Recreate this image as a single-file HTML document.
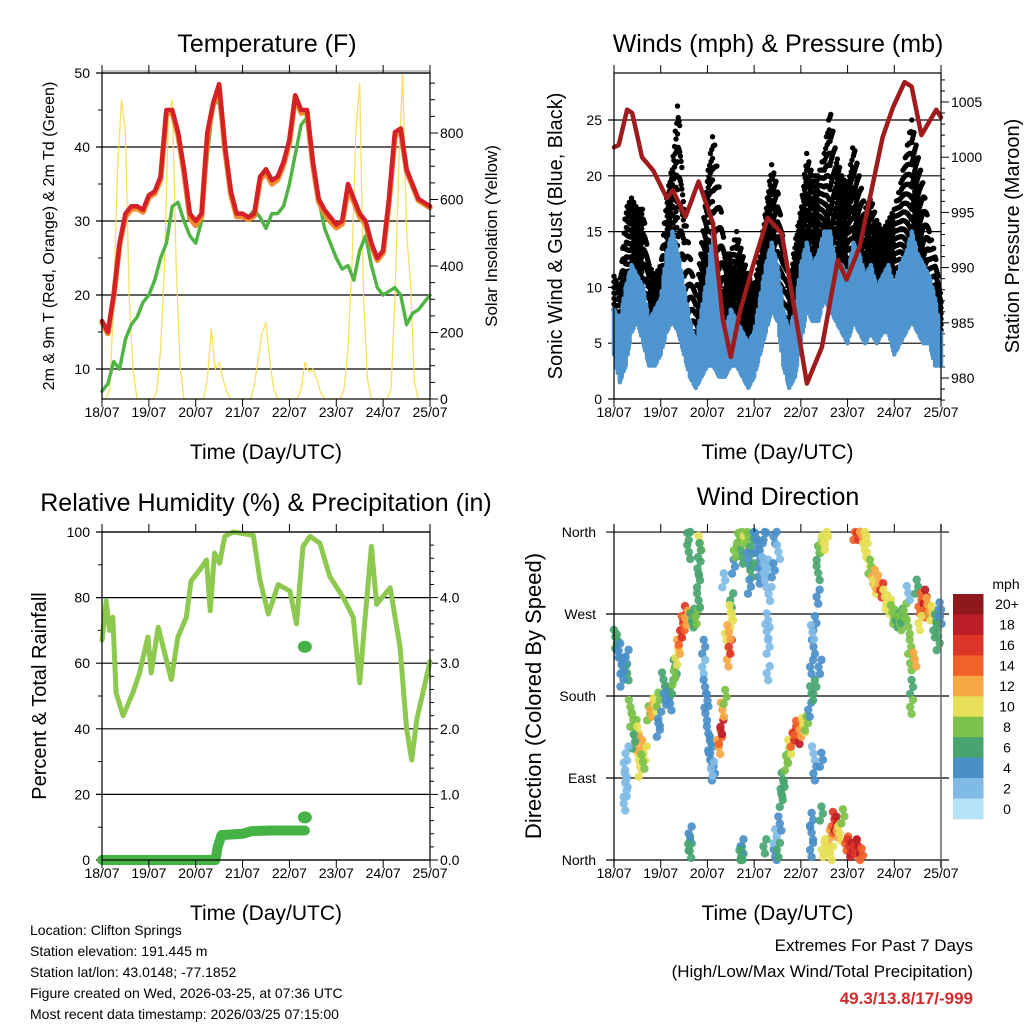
<!DOCTYPE html>
<html><head><meta charset="utf-8"><style>
html,body{margin:0;padding:0;background:#fff;}
svg{display:block;font-family:"Liberation Sans",Arial,sans-serif;}
</style></head><body>
<svg id="fig" width="1024" height="1024" viewBox="0 0 1024 1024">
<rect x="0" y="0" width="1024" height="1024" fill="#fff"/>
<g id="gTemp"></g>
<g id="gWind"></g>
<g id="gRH"></g>
<g id="gDir"></g>
<g id="gText">
<text x="30" y="935" font-size="14">Location: Clifton Springs</text>
<text x="30" y="956" font-size="14">Station elevation: 191.445 m</text>
<text x="30" y="977" font-size="14">Station lat/lon: 43.0148; -77.1852</text>
<text x="30" y="998" font-size="14">Figure created on Wed, 2026-03-25, at 07:36 UTC</text>
<text x="30" y="1019" font-size="14">Most recent data timestamp: 2026/03/25 07:15:00</text>
<text x="973" y="951" font-size="17" text-anchor="end">Extremes For Past 7 Days</text>
<text x="973" y="977" font-size="17" text-anchor="end">(High/Low/Max Wind/Total Precipitation)</text>
<text x="973" y="1004" font-size="17" font-weight="bold" fill="#d02a2a" text-anchor="end">49.3/13.8/17/-999</text>
</g>
</svg>
<script>
// ---------- DATA ----------
const dayLabels = ["18/07","19/07","20/07","21/07","22/07","23/07","24/07","25/07"];
// temperature, 3-hourly from 18/07 00Z
const temp2m = [16.5,15,20,27,31,32,32,31.5, 33.5,34,36,45,45,42,37,31, 30,31,42,46,48.5,40,34,31, 31,30.5,31,36,37,35.5,36,38, 41,47,45,45,38,33,31.5,30.5, 29.5,30,35,33,31,30,27,25, 26,33,42,42.5,37,35,33,32.5, 32];
const temp9m = [16.3,14.8,19.8,26.8,30.6,31.6,31.7,31.2, 33.2,33.7,35.6,44.6,44.6,41.6,36.6,30.4, 29.4,30.6,41.6,45.8,48.2,39.6,33.6,30.6, 30.6,30.2,30.7,35.6,36.5,35,35.6,37.6, 40.6,46.8,44.6,44.7,37.6,32.6,31,29.9, 29.1,29.6,34.3,32.6,30.6,29.6,26.7,24.7, 25.7,32.5,41.4,42.2,36.7,34.8,32.8,32.3, 31.8];
const dew2m = [7,8,11,10,14,16,17,19, 20,22,25,27,32,32.5,30,28, 27,30,39,46,46,40,33,31, 31,30.5,31.5,30.5,29,31,31,32, 35,39,43,44,38,33,29,27, 25,23.5,24,22,26,28,24,21, 20,20.5,21,20,16,17.5,18,19, 20];
// solar, 2-hourly
const solar = [0,0,30,300,700,900,800,300,80,0,0,0, 0,0,20,150,400,850,900,400,100,0,0,0, 0,0,0,60,210,90,110,60,20,0,0,0, 0,0,0,40,120,200,230,110,30,0,0,0, 0,0,0,30,110,80,90,60,20,0,0,0, 0,0,30,150,400,800,950,300,60,0,0,0, 0,0,30,300,700,980,500,350,50,0,0,0, 0];
const tempTicks = [10,20,30,40,50];
const solarTicks = [0,200,400,600,800];
// winds, 3-hourly
const windLo = [4,1.5,3,6,7,5,3,3, 4,6,7,6,4,2,1,2, 3,3,2,2,3,3,2,1, 2,4,6,8,7,3,1,2, 5,8,7,7,9,8,7,6, 5,7,6,5,6,5,6,6, 4,5,6,7,6,5,5,3, 3];
const windHi = [8,7,10,12,11,10,7,8, 9,13,15,13,10,7,5,8, 11,15,9,6,8,7,6,5, 6,9,12,14,12,8,6,8, 12,14,12,13,15,15,12,12, 11,14,13,11,12,10,11,12, 10,12,13,15,13,12,11,9, 6];
const gustLo = [8,6,9,11,10,9,6,7, 8,11,13,11,8,6,4,7, 11,12,8,7,7,6,5,4, 5,8,10,13,11,7,4,6, 10,13,11,12,13,13,11,11, 10,12,11,10,11,10,10,11, 9,11,12,13,12,11,10,8, 6];
const gustHi = [11,10,17,18,17,17,12,11, 12,18,21,27,17,13,9,14, 20,24,19,13,13,15,13,11, 10,13,17,21,19,14,10,14, 17,22,20,20,22,26,22,20, 19,23,20,17,18,16,15,16, 17,19,22,25,22,19,15,13, 9];
const presTime = [0,0.1,0.28,0.39,0.6,0.84,1.13,1.26,1.53,1.81,2.12,2.33,2.5,2.69,2.97,3.29,3.59,3.83,4.13,4.45,4.79,4.98,5.26,5.75,5.97,6.22,6.37,6.58,6.9,7];
const presVal = [1000.9,1001.1,1004.3,1004.0,1000.0,998.8,996.3,997.0,994.6,997.8,994.0,985.3,981.9,985.9,990.1,994.5,993.1,987.1,979.5,982.8,990.7,988.9,991.9,1001.8,1004.5,1006.8,1006.4,1002.0,1004.3,1003.6];
const windTicks = [0,5,10,15,20,25];
const presTicks = [980,985,990,995,1000,1005];
// humidity & rain
const rhTime = [0,0.09,0.16,0.23,0.3,0.45,0.66,0.8,0.98,1.05,1.2,1.48,1.62,1.8,1.9,2.09,2.23,2.31,2.4,2.51,2.62,2.8,3.23,3.37,3.55,3.76,4.01,4.15,4.29,4.44,4.65,4.86,5.15,5.36,5.5,5.61,5.75,5.86,6.15,6.36,6.5,6.61,6.72,7];
const rhVal = [67,79,70,74,51,44,51,57,68,57,71,55,68,74,85,88.5,91.5,76,93.6,90.5,98.7,100,99,85.5,75,84,82,72,95.6,98.7,96.6,86.5,80,74,54,73,95.6,78,83,65,40,30.5,43,60.5];
const rainTime = [0,1,2,2.42,2.47,2.55,3.0,3.2,3.6,4.0,4.33];
const rainVal = [0,0,0,0,0.2,0.38,0.4,0.44,0.45,0.45,0.45];
const rainExtraT = [4.33,4.33];
const rainExtraV = [0.65,3.25];
const rhTicks = [0,20,40,60,80,100];
const rainTicks = [0,1,2,3,4];
// wind direction observations [day offset, direction deg, speed mph]
const dirObs = [[0.03,245,6],[0.06,240,6],[0.1,230,5],[0.13,222,4],[0.17,212,4],[0.28,223,4],[0.28,205,6],[0.17,198,4],[0.21,215,4],
[0.35,168,8],[0.38,154,8],[0.45,146,8],[0.53,139,10],[0.6,124,12],[0.67,117,10],[0.53,110,10],[0.56,99,10],[0.5,128,12],[0.62,108,8],[0.42,130,6],
[0.28,117,2],[0.24,99,2],[0.24,77,2],[0.24,62,2],[0.26,88,2],
[0.74,161,8],[0.81,165,12],[0.88,170,10],[0.95,176,8],[1.1,183,4],[1.06,198,6],[0.95,143,4],[0.98,155,4],[1.2,172,4],[1.15,178,4],[1.24,190,6],[1.31,212,6],[1.28,200,8],[1.35,222,10],[1.38,234,12],[1.42,244,14],[1.45,252,16],[1.48,260,14],[1.52,271,16],[1.55,266,12],
[1.67,263,6],[1.72,268,6],[1.77,267,8],[1.81,285,6],[1.81,307,6],[1.82,320,6],[1.84,348,10],[1.83,340,6],[1.6,359,6],[1.6,338,6],[1.63,18,6],[1.63,29,4],[1.62,10,6],
[1.92,234,4],[1.92,212,2],[1.95,190,4],[1.97,175,4],[1.99,161,4],[2.02,139,4],[2.05,128,4],[2.09,117,4],[2.06,110,4],[2.13,95,4],[2.11,100,2],
[2.24,124,12],[2.28,135,14],[2.31,146,18],[2.32,165,12],[2.38,179,8],[2.45,220,12],[2.41,241,10],[2.52,263,10],[2.49,234,16],[2.46,250,12],[2.35,307,2],[2.52,285,6],[2.5,272,10],
[2.74,7,6],[2.74,15,4],[2.72,3,6],
[2.66,351,8],[2.7,358,8],[2.81,348,10],[2.85,355,8],[2.95,344,6],[2.73,333,6],[2.56,322,4],[2.6,340,8],[2.88,330,4],[3.09,329,4],[3.12,311,4],[3.23,307,2],[3.3,322,2],[3.45,355,4],[3.52,338,2],[3.41,318,4],[2.95,318,6],[3.02,359,4],[3.23,359,4],[3.34,292,2],[3.3,263,2],[3.3,234,2],[3.3,205,2],[3.27,251,2],[3.05,345,4],[3.15,340,4],[3.2,325,2],[2.9,300,4],
[3.23,15,6],[3.45,4,4],[3.45,26,2],[3.52,11,6],[3.55,40,4],[3.58,66,6],[3.6,78,6],[3.62,88,6],[3.69,106,8],[3.72,115,8],[3.76,124,10],[3.82,132,14],[3.87,139,16],[3.94,135,18],[3.9,145,14],[4.01,143,12],[4.06,148,10],[4.12,150,8],[4.19,165,4],[4.23,183,6],[4.3,190,6],[4.23,212,4],[4.27,234,4],[4.3,260,4],[4.37,289,4],[4.37,315,6],[4.37,337,6],[4.42,345,8],[4.48,348,10],[4.55,355,10],[4.41,212,4],[4.27,117,2],[4.44,110,4],[4.3,95,4],[4.25,250,2],
[4.23,44,4],[4.23,11,4],[4.23,30,4],[4.44,51,6],[4.48,11,10],[4.55,15,10],[4.62,25,12],[4.69,37,14],[4.72,45,16],[4.76,40,18],[4.8,32,12],[4.83,29,10],[4.9,48,8],[4.98,18,14],[5.03,15,16],[5.09,11,18],[5.16,14,16],[5.23,15,18],[5.3,5,14],[4.66,7,10],[4.55,15,10],
[5.16,359,14],[5.23,359,16],[5.3,357,12],[5.37,355,10],[5.4,340,10],[5.45,330,10],[5.48,322,8],[5.55,311,12],[5.58,300,10],[5.65,305,12],[5.73,296,16],[5.8,289,10],[5.85,283,10],[5.9,278,10],[5.96,272,8],[6.01,267,8],[6.07,263,6],[6.12,260,8],[6.18,268,6],[6.23,274,8],[6.3,256,8],[6.33,234,8],[6.37,216,8],[6.44,220,12],[6.37,190,6],[6.37,168,8],[6.3,293,2],[6.48,300,6],[6.55,278,14],[6.6,285,14],[6.66,289,18],[6.66,274,14],[6.72,280,12],[6.8,271,10],[6.87,252,6],[6.98,267,4],[6.94,238,6],[6.55,260,10],[6.9,262,6],[6.97,275,4]];
const dirTicks = [0,90,180,270,360];
const dirLabels = ["North","East","South","West","North"];
const spdBins = [0,2,4,6,8,10,12,14,16,18,20];
const spdLabels = ["0","2","4","6","8","10","12","14","16","18","20+"];
const spdColors = ["#b5e2f7","#7fbbe6","#4a8fc8","#48a56f","#7cc14b","#e6df57","#f6a845","#ef6328","#de3529","#bd1d26","#8e181c"];

// ---------- HELPERS ----------
const NS = "http://www.w3.org/2000/svg";
function mk(parent, tag, attrs, txt){
  const e = document.createElementNS(NS, tag);
  for (const k in attrs) e.setAttribute(k, attrs[k]);
  if (txt !== undefined) e.textContent = txt;
  parent.appendChild(e);
  return e;
}
function colorFor(s){ let i = Math.floor(s/2); if (i<0) i=0; if (i>10) i=10; return spdColors[i]; }

function frame(g, x0, x1, y0, y1, xs){
  for (let d=0; d<=7; d++){
    const x = xs(d);
    const t1 = mk(g,"line",{x1:x,x2:x,y1:y1,y2:y1+8,stroke:"#000","stroke-width":1});
    
    
    const t2 = mk(g,"line",{x1:x,x2:x,y1:y0,y2:y0-8,stroke:"#000","stroke-width":1});
    
    
    const lb = mk(g,"text",{x:x,y:y1+18,"font-size":14,"text-anchor":"middle"},dayLabels[d]);
    
    
  }
  const xt = mk(g,"text",{x:(x0+x1)/2,y:y1+60,"font-size":21,"text-anchor":"middle"},"Time (Day/UTC)");
  
  
}
function poly(g, pts, attrs){
  return mk(g,"polyline",Object.assign({points:pts.map(p=>p[0].toFixed(1)+","+p[1].toFixed(1)).join(" "),fill:"none","stroke-linejoin":"round","stroke-linecap":"round"},attrs));
}
function lerpArr(a, f){ // fractional index sampling for rendering
  const i = Math.floor(f), j = Math.min(i+1, a.length-1), w = f - i;
  return a[i]*(1-w) + a[j]*w;
}

// ---------- TEMPERATURE ----------
(function(){
  const g = document.getElementById("gTemp");
  const X0=102,X1=430,Y0=73,Y1=399;
  const xs = d => X0 + d*(X1-X0)/7;
  const yt = v => Y0 + (50-v)*7.4;
  const ys = s => Y1 - s*0.3325;
  const ti = mk(g,"text",{x:267,y:52,"font-size":25,"text-anchor":"middle"},"Temperature (F)");
  
  
  tempTicks.forEach(v=>{
    const l = mk(g,"line",{x1:X0-6,x2:X1,y1:yt(v),y2:yt(v),stroke:"#000","stroke-width":1.2});
    
    
    const t = mk(g,"text",{x:X0-12,y:yt(v)+5,"font-size":14,"text-anchor":"end"},String(v));
    
    
  });
  const dbl = mk(g,"line",{x1:X0,x2:X1,y1:yt(50)-2,y2:yt(50)-2,stroke:"#888","stroke-width":1});
  
  
  [15,25,35,45].forEach(v=>{
    const l = mk(g,"line",{x1:X0-4,x2:X0,y1:yt(v),y2:yt(v),stroke:"#000"});
    
    
  });
  for (let s=0; s<=950; s+=50){
    const major = s%200===0;
    const l = mk(g,"line",{x1:X1,x2:X1+(major?8:5),y1:ys(s),y2:ys(s),stroke:"#000"});
    
    
  }
  solarTicks.forEach(s=>{
    const t = mk(g,"text",{x:X1+10,y:ys(s)+5,"font-size":14},String(s));
    
    
  });
  const sp = poly(g, solar.map((v,i)=>[xs(i/12), ys(v)]), {stroke:"#f7dc4a","stroke-width":1.3,opacity:0.9});
  
  
  const dp = poly(g, dew2m.map((v,i)=>[xs(i/8), yt(v)]), {stroke:"#4fb443","stroke-width":3.5,"stroke-dasharray":"3 1.5"});
  
  
  const op = poly(g, temp9m.map((v,i)=>[xs(i/8), yt(v)]), {stroke:"#f28a2e","stroke-width":5.5});
  
  
  const rp = poly(g, temp2m.map((v,i)=>[xs(i/8), yt(v)]), {stroke:"#d42027","stroke-width":4.5});
  
  
  const fr = mk(g,"rect",{x:X0,y:Y0,width:X1-X0,height:Y1-Y0,fill:"none",stroke:"#000","stroke-width":1.2});
  
  
  frame(g,X0,X1,Y0,Y1,xs);
  const yl = mk(g,"text",{transform:"translate(54,236) rotate(-90)","font-size":16,"text-anchor":"middle"},"2m & 9m T (Red, Orange) & 2m Td (Green)");
  
  
  const yr = mk(g,"text",{transform:"translate(497,236) rotate(-90)","font-size":17,"text-anchor":"middle"},"Solar Insolation (Yellow)");
  
  
})();

// ---------- WINDS ----------
(function(){
  const g = document.getElementById("gWind");
  const X0=614,X1=941,Y0=73,Y1=399;
  const xs = d => X0 + d*(X1-X0)/7;
  const yw = v => Y1 - v*11.16;
  const yp = p => 378 - (p-980)*11.04;
  const ti = mk(g,"text",{x:778,y:52,"font-size":25,"text-anchor":"middle"},"Winds (mph) & Pressure (mb)");
  
  
  windTicks.forEach(v=>{
    const l = mk(g,"line",{x1:X0-6,x2:X1,y1:yw(v),y2:yw(v),stroke:"#000","stroke-width":1.2});
    
    
    const t = mk(g,"text",{x:X0-12,y:yw(v)+5,"font-size":14,"text-anchor":"end"},String(v));
    
    
  });
  for (let p=978; p<=1007; p++){
    const major = p%5===0;
    const l = mk(g,"line",{x1:X1,x2:X1+(major?8:4),y1:yp(p),y2:yp(p),stroke:"#000"});
    
    
  }
  presTicks.forEach(p=>{
    const t = mk(g,"text",{x:X1+10,y:yp(p)+5,"font-size":14},String(p));
    
    
  });
  const n = gustHi.length;
  // gust dots (dense columns)
  for (let s=0; s<=(n-1)*8; s++){
    const f = s/8;
    const lo = lerpArr(gustLo,f), hi = lerpArr(gustHi,f);
    const m = 6;
    for (let k=0;k<=m;k++){
      const v = lo + (hi-lo)*((k + (s%3)*0.33)/m);
      if (v>hi+0.01) continue;
      const c = mk(g,"circle",{cx:xs(f/8),cy:yw(v),r:2.7,fill:"#000"});
      
      
    }
  }
  // sonic wind as dense vertical bars
  for (let s=0; s<=(n-1)*6; s++){
    const f = s/6;
    const lo = lerpArr(windLo,f) + ((s%4)===1?1.2:0), hi = lerpArr(windHi,f) - ((s%3)===2?1.5:0);
    const x = xs(f/8);
    const b = mk(g,"line",{x1:x,x2:x,y1:yw(lo),y2:yw(hi),stroke:"#4f95d0","stroke-width":4.5,"stroke-linecap":"round"});
    
    
  }
  const pl = poly(g, presVal.map((v,i)=>[xs(presTime[i]), yp(v)]), {stroke:"#9e1b1e","stroke-width":4.5});
  
  
  const fr = mk(g,"rect",{x:X0,y:Y0,width:X1-X0,height:Y1-Y0,fill:"none",stroke:"#000","stroke-width":1.2});
  
  
  frame(g,X0,X1,Y0,Y1,xs);
  const yl = mk(g,"text",{transform:"translate(562,236) rotate(-90)","font-size":20,"text-anchor":"middle"},"Sonic Wind & Gust (Blue, Black)");
  
  
  const yr = mk(g,"text",{transform:"translate(1019,236) rotate(-90)","font-size":20,"text-anchor":"middle"},"Station Pressure (Maroon)");
  
  
})();

// ---------- RH ----------
(function(){
  const g = document.getElementById("gRH");
  const X0=102,X1=430,Y0=532,Y1=860;
  const xs = d => X0 + d*(X1-X0)/7;
  const yr = v => Y1 - v*3.28;
  const yn = v => Y1 - v*65.6;
  const ti = mk(g,"text",{x:266,y:511,"font-size":25,"text-anchor":"middle"},"Relative Humidity (%) & Precipitation (in)");
  
  
  rhTicks.forEach(v=>{
    const l = mk(g,"line",{x1:X0-6,x2:X1,y1:yr(v),y2:yr(v),stroke:"#000","stroke-width":1.2});
    
    
    const t = mk(g,"text",{x:X0-12,y:yr(v)+5,"font-size":14,"text-anchor":"end"},String(v));
    
    
  });
  [10,30,50,70,90].forEach(v=>{
    const l = mk(g,"line",{x1:X0-4,x2:X0,y1:yr(v),y2:yr(v),stroke:"#000"});
    
    
  });
  for (let r=0; r<=4.81; r+=0.2){
    const major = Math.abs(r-Math.round(r))<0.01;
    const l = mk(g,"line",{x1:X1,x2:X1+(major?8:4),y1:yn(r),y2:yn(r),stroke:"#000"});
    
    
  }
  rainTicks.forEach(r=>{
    const t = mk(g,"text",{x:X1+10,y:yn(r)+5,"font-size":14},r.toFixed(1));
    
    
  });
  const rl = poly(g, rhVal.map((v,i)=>[xs(rhTime[i]), yr(v)]), {stroke:"#8dc84f","stroke-width":5});
  
  
  const pl = poly(g, rainVal.map((v,i)=>[xs(rainTime[i]), yn(v)]), {stroke:"#45b245","stroke-width":10});
  
  
  rainExtraV.forEach((v,i)=>{
    const c = mk(g,"ellipse",{cx:xs(rainExtraT[i]),cy:yn(v),rx:7,ry:6,fill:"#45b245"});
    
    
  });
  const fr = mk(g,"rect",{x:X0,y:Y0,width:X1-X0,height:Y1-Y0,fill:"none",stroke:"#000","stroke-width":1.2});
  
  
  frame(g,X0,X1,Y0,Y1,xs);
  const yl = mk(g,"text",{transform:"translate(46,696) rotate(-90)","font-size":20,"text-anchor":"middle"},"Percent & Total Rainfall");
  
  
})();

// ---------- WIND DIRECTION ----------
(function(){
  const g = document.getElementById("gDir");
  const X0=614,X1=941,Y0=532,Y1=860;
  const xs = d => X0 + d*(X1-X0)/7;
  const yd = v => Y1 - v*0.911;
  const ti = mk(g,"text",{x:778,y:505,"font-size":25,"text-anchor":"middle"},"Wind Direction");
  
  
  dirTicks.forEach((v,i)=>{
    const l = mk(g,"line",{x1:X0-8,x2:X1+8,y1:yd(v),y2:yd(v),stroke:"#000","stroke-width":1.2});
    
    
    const t = mk(g,"text",{x:X0-18,y:yd(v)+5,"font-size":14,"text-anchor":"end"},dirLabels[i]);
    
    
  });
  dirObs.forEach((o,i)=>{
    // each observation drawn as a small vertical cluster of dots
    [-7,0,7].forEach((dy,k)=>{
      const dx = ((i+k)%3-1)*1.5;
      let y = yd(o[1]) + dy;
      if (y > Y1) y = Y1; if (y < Y0) y = Y0;
      const c = mk(g,"circle",{cx:xs(o[0])+dx,cy:y,r:4.2,fill:colorFor(o[2]),opacity:0.92});
      
      
    });
  });
  const lft = mk(g,"line",{x1:X0,x2:X0,y1:Y0-8,y2:Y1+8,stroke:"#000","stroke-width":1.2});
  
  
  const rgt = mk(g,"line",{x1:X1,x2:X1,y1:Y0-8,y2:Y1+8,stroke:"#666","stroke-width":1.5});
  
  
  frame(g,X0,X1,Y0,Y1,xs);
  const yl = mk(g,"text",{transform:"translate(541,696) rotate(-90)","font-size":22,"text-anchor":"middle"},"Direction (Colored By Speed)");
  
  
  const bh = (819-594)/11;
  const mph = mk(g,"text",{x:1006,y:589,"font-size":14,"text-anchor":"middle"},"mph");
  
  
  for (let i=0;i<spdBins.length;i++){
    const k = spdBins.length-1-i;
    const r = mk(g,"rect",{x:953,y:594+i*bh,width:30.5,height:bh+0.3,fill:spdColors[k]});
    
    
    const t = mk(g,"text",{x:1007,y:594+i*bh+bh/2+5,"font-size":14,"text-anchor":"middle"},spdLabels[k]);
    
    
  }
})();
</script>
</body></html>
